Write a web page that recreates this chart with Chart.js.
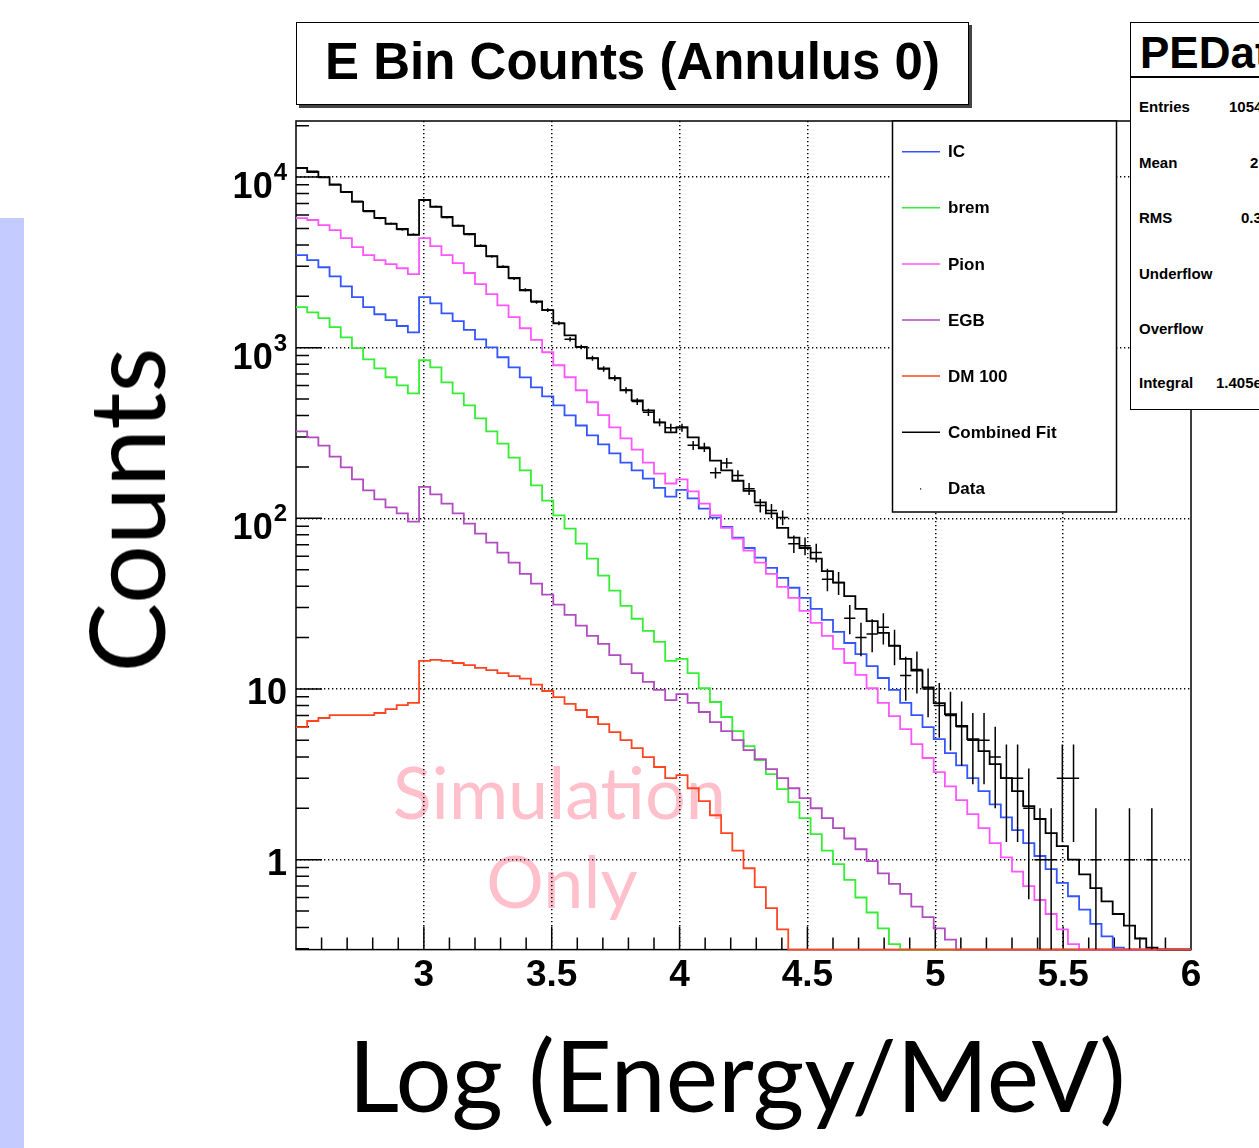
<!DOCTYPE html>
<html>
<head>
<meta charset="utf-8">
<title>E Bin Counts (Annulus 0)</title>
<script src="https://cdn.jsdelivr.net/npm/chart.js"></script>
<style>
  html, body { margin: 0; padding: 0; background: #fff; }
  body { width: 1259px; height: 1148px; position: relative; overflow: hidden;
         font-family: "Liberation Sans", Arial, sans-serif; }
  #c { position: absolute; left: 0; top: 0; }
  .abs { position: absolute; white-space: nowrap; line-height: 1; }
  .box { position: absolute; background: #fff; border: 1.5px solid #000; box-sizing: border-box; }
  #titlebox { left: 296px; top: 22px; width: 673px; height: 83px; box-shadow: 3px 3px 0 #444; }
  #titlebox span { position: absolute; left: 0; right: 0; top: 13px; text-align: center;
                   font-weight: bold; font-size: 51px; line-height: 1; }
  #stats { left: 1130px; top: 22px; width: 200px; height: 388px; }
  #statsline { position: absolute; left: 1130px; top: 76px; width: 140px; height: 1.5px; background: #000; }
  .st { font-weight: bold; font-size: 15px; }
  #sidebar { position: absolute; left: 0; top: 218px; width: 24px; height: 930px; background: #c4ccff; }
  .gill { font-family: Lato, "Open Sans", sans-serif; color: #000; }
</style>
</head>
<body>
<canvas id="c" width="1259" height="1148"></canvas>
<div id="sidebar"></div>
<div id="titlebox" class="box"><span>E Bin Counts (Annulus 0)</span></div>
<div id="stats" class="box"></div>
<div id="statsline"></div>
<div class="abs" style="left:1140px;top:31px;font-weight:bold;font-size:44px;">PEDat</div>
<div class="abs st" style="left:1139px;top:99px;">Entries</div>
<div class="abs st" style="left:1229px;top:99px;">1054</div>
<div class="abs st" style="left:1139px;top:155px;">Mean</div>
<div class="abs st" style="left:1250px;top:155px;">2</div>
<div class="abs st" style="left:1139px;top:210px;">RMS</div>
<div class="abs st" style="left:1241px;top:210px;">0.3</div>
<div class="abs st" style="left:1139px;top:266px;">Underflow</div>
<div class="abs st" style="left:1139px;top:321px;">Overflow</div>
<div class="abs st" style="left:1139px;top:375px;">Integral</div>
<div class="abs st" style="left:1216px;top:375px;">1.405e</div>
<div class="abs gill" style="left:125px;top:510px;font-size:104px;transform:translate(-50%,-50%) rotate(-90deg);">Counts</div>
<div class="abs gill" style="left:737px;top:1073px;font-size:99px;transform:translate(-50%,-50%);">Log (Energy/MeV)</div>
<script>
// histogram binning (log10 E / MeV)
const xMin = 2.5, xMax = 6.0, nBins = 80;
const yMin = 0.297, yMax = 21300;
const xTickValues = [2.5, 3, 3.5, 4, 4.5, 5, 5.5, 6];
const yTickValues = [1, 10, 100, 1000, 10000];

const seriesNames = ["IC", "brem", "Pion", "EGB", "DM 100", "Combined Fit", "Data"];
const seriesColors = ["#3355ff", "#33ee33", "#ff55ff", "#b04cc0", "#ff4422", "#000000", "#000000"];

const icCounts = [3490, 3260, 2960, 2620, 2290, 1980, 1730, 1570, 1450, 1340,
  1230, 1980, 1820, 1590, 1430, 1270, 1120, 1005, 879, 767,
  670, 585, 519, 459, 401, 350, 306, 271, 240, 212,
  191, 171, 151, 134, 147, 131, 114, 101, 89, 77,
  67, 58.8, 51.3, 44.8, 39.2, 34.2, 29.5, 25.4, 21.6, 18.6,
  16.0, 13.6, 11.6, 9.87, 8.28, 7.03, 5.98, 5.08, 4.21, 3.57,
  3.00, 2.52, 2.11, 1.77, 1.49, 1.25, 1.05, 0.88, 0.73, 0.61,
  0.51, 0.42, 0.355, 0.305, 0, 0, 0, 0, 0, 0];

const bremCounts = [1730, 1610, 1490, 1320, 1150, 993, 855, 757, 671, 602,
  540, 844, 767, 626, 540, 459, 385, 323, 274, 227,
  191, 156, 127, 104, 87, 71, 58, 46.1, 37.7, 30.7,
  25.8, 21.9, 18.9, 14.6, 15.0, 12.4, 10.1, 8.39, 6.85, 5.67,
  4.63, 3.83, 3.17, 2.59, 2.17, 1.75, 1.41, 1.13, 0.94, 0.76,
  0.60, 0.49, 0.395, 0.32, 0, 0, 0, 0, 0, 0,
  0, 0, 0, 0, 0, 0, 0, 0, 0, 0,
  0, 0, 0, 0, 0, 0, 0, 0, 0, 0];

const pionCounts = [5750, 5600, 5230, 4890, 4390, 3880, 3490, 3260, 3090, 2920,
  2700, 4390, 3940, 3490, 3130, 2740, 2360, 2060, 1770, 1510,
  1300, 1110, 940, 789, 671, 563, 479, 402, 341, 294,
  253, 212, 183, 160, 169, 144, 122, 104, 88, 76,
  64.6, 55.0, 47.3, 39.7, 34.2, 28.7, 24.4, 20.5, 17.2, 14.2,
  12.1, 10.1, 8.28, 6.94, 5.82, 4.75, 3.94, 3.26, 2.69, 2.23,
  1.85, 1.53, 1.25, 1.03, 0.85, 0.70, 0.58, 0.48, 0.39, 0.32,
  0, 0, 0, 0, 0, 0, 0, 0, 0, 0];

const egbCounts = [323, 298, 267, 230, 199, 169, 146, 129, 116, 107,
  95.7, 153, 138, 122, 107, 93.1, 81.3, 72.0, 62.9, 55.0,
  47.3, 41.4, 35.7, 31.2, 27.2, 23.5, 20.5, 18.4, 15.8, 14.0,
  12.4, 11.0, 9.87, 8.61, 9.34, 8.28, 7.33, 6.40, 5.67, 5.01,
  4.38, 3.88, 3.39, 3.00, 2.62, 2.29, 2.00, 1.75, 1.53, 1.33,
  1.15, 0.98, 0.83, 0.72, 0.63, 0.53, 0.46, 0.395, 0.34, 0,
  0, 0, 0, 0, 0, 0, 0, 0, 0, 0,
  0, 0, 0, 0, 0, 0, 0, 0, 0, 0];

const dmCounts = [5.98, 6.49, 6.76, 7.03, 7.03, 7.03, 7.03, 7.23, 7.63, 8.05,
  8.28, 14.6, 14.8, 14.6, 14.2, 13.8, 13.3, 12.9, 12.4, 11.9,
  11.5, 10.6, 9.73, 8.97, 8.17, 7.53, 6.85, 6.23, 5.59, 5.02,
  4.50, 3.99, 3.49, 3.00, 3.13, 2.62, 2.20, 1.82, 1.43, 1.13,
  0.89, 0.69, 0.52, 0.39, 0, 0, 0, 0, 0, 0,
  0, 0, 0, 0, 0, 0, 0, 0, 0, 0,
  0, 0, 0, 0, 0, 0, 0, 0, 0, 0,
  0, 0, 0, 0, 0, 0, 0, 0, 0, 0];

const fitCounts = [11300, 10700, 10000, 9000, 8180, 7150, 6330, 5760, 5310, 4960,
  4580, 7350, 6680, 5840, 5170, 4640, 3940, 3440, 2970, 2560,
  2170, 1870, 1660, 1390, 1180, 1010, 867, 757, 662, 563,
  491, 429, 365, 319, 342, 298, 257, 218, 191, 166,
  145, 124, 107, 88, 77, 67, 58, 49, 42, 35,
  29.5, 25, 21.3, 17.9, 15.0, 12.8, 10.2, 8.27, 7.13, 6.07,
  5.08, 4.32, 3.63, 3.00, 2.52, 2.06, 1.73, 1.43, 1.20, 1.00,
  0.82, 0.68, 0.57, 0.48, 0.41, 0.345, 0.305, 0, 0, 0];

const dataCounts = [11250, 10820, 9950, 9080, 8150, 7210, 6290, 5740, 5350, 4920,
  4610, 7310, 6720, 5790, 5200, 4610, 3970, 3420, 2990, 2540,
  2180, 1850, 1660, 1390, 1120, 1010, 867, 750, 664, 563,
  484, 418, 365, 340, 340, 268, 261, 185, 211, 178,
  149, 119, 111, 101, 71, 69, 63, 44, 42, 26,
  20, 21, 23, 18, 12, 13, 10, 8, 7, 6,
  5, 5, 4, 3, 3, 2, 1, 1, 3, 3,
  0, 1, 0, 0, 1, 0, 1, 0, 0, 0];

const binWidth = (xMax - xMin) / nBins;
const FONT = '"Liberation Sans", Arial, sans-serif';

// step outline: one point per lower bin edge, plus the last upper edge.
// empty bins sit on the bottom of the frame, like ROOT does on a log axis
function histPoints(counts) {
  const pts = counts.map((c, i) => ({ x: xMin + i * binWidth, y: c > 0 ? c : yMin }));
  pts.push({ x: xMax, y: pts[pts.length - 1].y });
  return pts;
}

function histSet(k, counts, order) {
  return {
    label: seriesNames[k],
    data: histPoints(counts),
    borderColor: seriesColors[k],
    borderWidth: 1.8,
    stepped: 'before',
    pointRadius: 0,
    fill: false,
    clip: 3,
    order: order
  };
}

const dataPoints = [];
dataCounts.forEach((n, i) => {
  if (n > 0) dataPoints.push({ x: xMin + (i + 0.5) * binWidth, y: n });
});

// ROOT-like frame, inner tick marks, watermark, error bars, legend, y labels
const rootStyle = {
  id: 'rootStyle',
  beforeDraw(chart) {
    const { ctx } = chart;
    const x = chart.scales.x, y = chart.scales.y;
    ctx.save();
    ctx.fillStyle = 'rgba(255, 175, 190, 0.8)';
    ctx.font = '72px Lato, "Open Sans", sans-serif';
    ctx.textAlign = 'center';
    ctx.textBaseline = 'alphabetic';
    ctx.fillText('Simulation', x.getPixelForValue(3.53), y.getPixelForValue(1.74));
    ctx.fillText('Only', x.getPixelForValue(3.54), y.getPixelForValue(0.522));
    ctx.restore();
  },
  beforeDatasetsDraw(chart) {
    const { ctx, chartArea: a } = chart;
    const x = chart.scales.x, y = chart.scales.y;
    ctx.save();
    ctx.strokeStyle = '#000';
    ctx.lineWidth = 1.5;
    ctx.strokeRect(a.left, a.top, a.right - a.left, a.bottom - a.top);
    ctx.beginPath();
    // x ticks every 0.1, long ones every 0.5
    for (let k = 1; k < 35; k++) {
      const v = xMin + k * 0.1;
      const px = x.getPixelForValue(v);
      const len = (k % 5 === 0) ? 23 : 12;
      ctx.moveTo(px, a.bottom);
      ctx.lineTo(px, a.bottom - len);
    }
    // y ticks 1..9 per decade
    for (let e = -1; e <= 4; e++) {
      for (let m = 1; m <= 9; m++) {
        const v = m * Math.pow(10, e);
        if (v <= yMin || v >= yMax) continue;
        const py = y.getPixelForValue(v);
        const len = (m === 1) ? 26 : 13;
        ctx.moveTo(a.left, py);
        ctx.lineTo(a.left + len, py);
      }
    }
    ctx.stroke();
    ctx.restore();
  },
  afterDatasetsDraw(chart) {
    const { ctx, chartArea: a } = chart;
    const x = chart.scales.x, y = chart.scales.y;
    const meta = chart.getDatasetMeta(6);
    ctx.save();
    ctx.beginPath();
    ctx.rect(a.left, a.top, a.right - a.left, a.bottom - a.top);
    ctx.clip();
    ctx.strokeStyle = '#000';
    ctx.lineWidth = 1.5;
    ctx.beginPath();
    meta.data.forEach((pt, k) => {
      const d = dataPoints[k];
      const err = Math.sqrt(d.y);
      const xl = x.getPixelForValue(d.x - binWidth / 2);
      const xr = x.getPixelForValue(d.x + binWidth / 2);
      const yt = y.getPixelForValue(d.y + err);
      const yb = d.y - err > 0 ? y.getPixelForValue(d.y - err) : a.bottom;
      ctx.moveTo(xl, pt.y); ctx.lineTo(xr, pt.y);
      ctx.moveTo(pt.x, yt); ctx.lineTo(pt.x, yb);
    });
    ctx.stroke();
    ctx.restore();
  },
  afterDraw(chart) {
    const { ctx, chartArea: a } = chart;
    const y = chart.scales.y;
    ctx.save();
    // y labels with exponents
    ctx.fillStyle = '#000';
    ctx.textAlign = 'right';
    ctx.textBaseline = 'alphabetic';
    const lx = a.left - 9;
    yTickValues.forEach(v => {
      const py = y.getPixelForValue(v);
      const ex = Math.round(Math.log10(v));
      if (ex <= 1) {
        ctx.font = 'bold 36px ' + FONT;
        ctx.fillText(String(v), lx, py + 15);
      } else {
        ctx.font = 'bold 24px ' + FONT;
        const ew = ctx.measureText(String(ex)).width;
        ctx.fillText(String(ex), lx, py + 3);
        ctx.font = 'bold 36px ' + FONT;
        ctx.fillText('10', lx - ew - 1, py + 21);
      }
    });
    // legend box
    const bx = 892.5, by = a.top, bw = 224, bh = 391;
    ctx.fillStyle = '#fff';
    ctx.fillRect(bx, by, bw, bh);
    ctx.strokeStyle = '#000';
    ctx.lineWidth = 1.5;
    ctx.strokeRect(bx, by, bw, bh);
    ctx.font = 'bold 17px ' + FONT;
    ctx.textAlign = 'left';
    ctx.textBaseline = 'middle';
    seriesNames.forEach((name, k) => {
      const ry = 151.7 + k * 56.1;
      if (k < 6) {
        ctx.strokeStyle = seriesColors[k];
        ctx.lineWidth = 1.5;
        ctx.beginPath();
        ctx.moveTo(902, ry); ctx.lineTo(940, ry);
        ctx.stroke();
      } else {
        ctx.fillStyle = '#000';
        ctx.fillRect(920, ry, 1.2, 1.2);
      }
      ctx.fillStyle = '#000';
      ctx.fillText(name, 948, ry + 1);
    });
    ctx.restore();
  }
};

const gridColor = (c) => {
  const v = c.tick ? c.tick.value : null;
  return (v === xMin || v === xMax) ? 'rgba(0,0,0,0)' : '#000';
};

new Chart(document.getElementById('c'), {
  type: 'line',
  data: {
    datasets: [
      histSet(0, icCounts, 5),
      histSet(1, bremCounts, 6),
      histSet(2, pionCounts, 4),
      histSet(3, egbCounts, 3),
      histSet(4, dmCounts, 1),
      histSet(5, fitCounts, 2),
      { label: 'Data', data: dataPoints, showLine: false, pointRadius: 0, order: 0,
        borderColor: '#000', backgroundColor: '#000' }
    ]
  },
  options: {
    responsive: false,
    animation: false,
    devicePixelRatio: 1,
    layout: { padding: { left: 296, right: 68, top: 121, bottom: 146 } },
    plugins: { legend: { display: false }, tooltip: { enabled: false } },
    scales: {
      x: {
        type: 'linear', min: xMin, max: xMax,
        afterBuildTicks: (s) => { s.ticks = xTickValues.map(v => ({ value: v })); },
        ticks: {
          autoSkip: false, maxRotation: 0, padding: 4, color: '#000',
          font: { family: FONT, weight: 'bold', size: 37 },
          callback: (v) => (v === xMin ? '' : String(v))
        },
        grid: { color: gridColor, lineWidth: 1.5, drawTicks: false },
        border: { display: false, dash: [1.3, 2.7] }
      },
      y: {
        type: 'logarithmic', min: yMin, max: yMax,
        afterBuildTicks: (s) => { s.ticks = yTickValues.map(v => ({ value: v })); },
        ticks: { display: false },
        grid: { color: '#000', lineWidth: 1.5, drawTicks: false },
        border: { display: false, dash: [1.3, 2.7] }
      }
    }
  },
  plugins: [rootStyle]
});
</script>
</body>
</html>
